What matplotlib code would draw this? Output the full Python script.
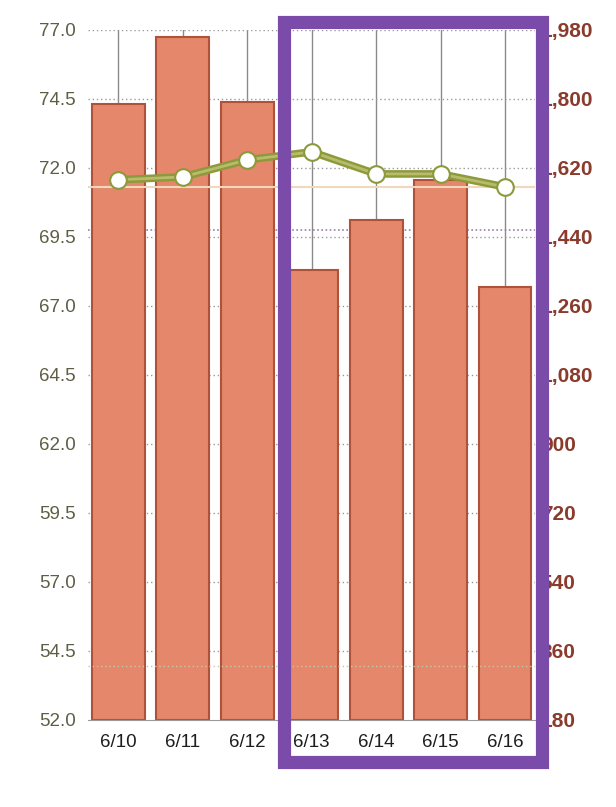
import matplotlib.pyplot as plt
from matplotlib.patches import Rectangle
from matplotlib.ticker import FuncFormatter
import numpy as np

plt.rcParams['font.family'] = ['Liberation Sans', 'DejaVu Sans']

# datos
days = ['6/10', '6/11', '6/12', '6/13', '6/14', '6/15', '6/16']
calories = [1787, 1962, 1792, 1354, 1484, 1589, 1310]
weight = [71.57, 71.67, 72.29, 72.58, 71.78, 71.78, 71.31]
left_ticks = [52.0, 54.5, 57.0, 59.5, 62.0, 64.5, 67.0, 69.5, 72.0, 74.5, 77.0]
right_ticks = [180, 360, 540, 720, 900, 1080, 1260, 1440, 1620, 1800, 1980]
goal_weight = 71.3

bar_color = '#E4876A'
bar_edge = '#B0523A'
line_color = '#8C9A3C'
left_lbl = '#5E5E45'
right_lbl = '#8A3B2C'
box_color = '#7B4BA9'


def to_right(v):
    # convierte valor del eje izquierdo al derecho
    return right_ticks[0] + (v - left_ticks[0]) / (left_ticks[-1] - left_ticks[0]) * (right_ticks[-1] - right_ticks[0])


fig = plt.figure(figsize=(6.16, 8.07), dpi=100)
ax = fig.add_axes([0.143, 0.108, 0.726, 0.855])
ax2 = ax.twinx()
x = np.arange(len(days))

# lineas verticales de la cuadricula
for xi in x:
    ax2.plot([xi, xi], [right_ticks[0], right_ticks[-1]], color='#8a8a8a', lw=1, zorder=0)

ax2.bar(x, np.array(calories) - right_ticks[0], bottom=right_ticks[0], width=0.82,
        color=bar_color, edgecolor=bar_edge, linewidth=1.5, zorder=2)
ax2.set_ylim(right_ticks[0], right_ticks[-1])
ax2.set_yticks(right_ticks)
ax2.yaxis.set_major_formatter(FuncFormatter(lambda v, p: f'{int(v):,}'))
ax2.tick_params(axis='y', length=0, labelsize=15, labelcolor=right_lbl, pad=4)
for t in ax2.get_yticklabels():
    t.set_fontweight('bold')

# cuadricula horizontal punteada
for v in left_ticks[1:]:
    ax2.axhline(to_right(v), color='#9a9a9a', lw=1, ls=(0, (1, 2)), zorder=1)
ax2.axhline(to_right(69.76), color='#9a7fb0', lw=1.2, ls=(0, (1, 1.5)), zorder=1)
ax2.axhline(to_right(53.95), color='#c8c8a8', lw=1, ls=(0, (1, 2)), zorder=3)

# linea de peso (eje izquierdo, encima)
ax.set_zorder(ax2.get_zorder() + 1)
ax.patch.set_visible(False)
ax.axhline(goal_weight, color='#F1D8BC', lw=1.5, zorder=1)
ax.plot(x, weight, color=line_color, lw=5.5, zorder=3, solid_capstyle='round')
ax.plot(x, weight, color='#B8BC6A', lw=2, zorder=3)
ax.plot(x, weight, 'o', ms=12, mfc='white', mec=line_color, mew=1.5, zorder=4)
ax.set_ylim(left_ticks[0], left_ticks[-1])
ax.set_yticks(left_ticks)
ax.set_yticklabels([f'{v:.1f}' for v in left_ticks])
ax.tick_params(axis='y', length=0, labelsize=13.5, labelcolor=left_lbl, pad=9)
ax.set_xlim(-0.47, 6.47)
ax.set_xticks(x)
ax.set_xticklabels(days)
ax.tick_params(axis='x', length=0, labelsize=13.5, labelcolor='#1e1e1e', pad=10)
for a in (ax, ax2):
    for s in a.spines.values():
        s.set_visible(False)
ax.spines['bottom'].set_visible(True)
ax.spines['bottom'].set_color('#9a9a9a')

# recuadro morado de resaltado
W, H = 616, 807
fig.patches.append(Rectangle((284 / W, 1 - 761.5 / H), 258 / W, 740 / H,
                             transform=fig.transFigure, fill=False,
                             edgecolor=box_color, linewidth=9.5, zorder=10))

plt.savefig('out.png', dpi=100)
plt.close()
